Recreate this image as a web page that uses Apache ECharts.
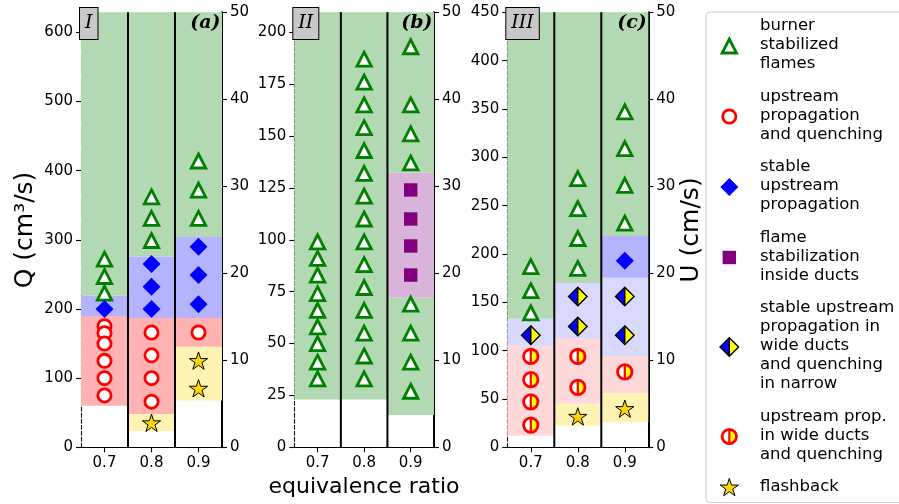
<!DOCTYPE html>
<html>
<head>
<meta charset="utf-8">
<script src="https://cdn.jsdelivr.net/npm/echarts@6/dist/echarts.min.js"></script>
<style>
  html, body { margin: 0; padding: 0; background: #fff; }
  #chart { width: 899px; height: 504px; }
</style>
</head>
<body>
<div id="chart"></div>
<script>
// ---- data -------------------------------------------------------------
const phis = [0.7, 0.8, 0.9];                 // equivalence ratio columns
const ductWalls = [0.75, 0.85];               // separators between columns
const flowMax = [629, 209.6, 450];            // Q range of each duct set (cm^3/s)
const flowTicks = [
  [0, 100, 200, 300, 400, 500, 600],
  [0, 25, 50, 75, 100, 125, 150, 175, 200],
  [0, 50, 100, 150, 200, 250, 300, 350, 400, 450]
];
const velMax = 50;                            // U range (cm/s)
const velTicks = [0, 10, 20, 30, 40, 50];
const ductTags = ['I', 'II', 'III'];
const panelTags = ['(a)', '(b)', '(c)'];

// regime bands: [phi, Q from, Q to (null = open to the top), regime]
const bandsA = [
  [0.7, 60, 190, 'upstream'], [0.7, 190, 219, 'stable'], [0.7, 219, null, 'burner'],
  [0.8, 23.6, 48, 'flashback'], [0.8, 48, 187, 'upstream'], [0.8, 187, 276, 'stable'], [0.8, 276, null, 'burner'],
  [0.9, 67.5, 145.5, 'flashback'], [0.9, 145.5, 187, 'upstream'], [0.9, 187, 304, 'stable'], [0.9, 304, null, 'burner']
];
const bandsB = [
  [0.7, 23, null, 'burner'],
  [0.8, 23, null, 'burner'],
  [0.9, 15.6, 72, 'burner'], [0.9, 72, 132.3, 'inside'], [0.9, 132.3, null, 'burner']
];
const bandsC = [
  [0.7, 12, 105, 'wideProp'], [0.7, 105, 133, 'wideStable'], [0.7, 133, null, 'burner'],
  [0.8, 22, 45, 'flashback'], [0.8, 45, 113, 'wideProp'], [0.8, 113, 170, 'wideStable'], [0.8, 170, null, 'burner'],
  [0.9, 26, 56, 'flashback'], [0.9, 56, 94.5, 'wideProp'], [0.9, 94.5, 175.5, 'wideStable'],
  [0.9, 175.5, 218.6, 'stable'], [0.9, 218.6, null, 'burner']
];

// observed cases: [phi, Q]
const burnerA = [[0.7, 272], [0.7, 247], [0.7, 223], [0.8, 362], [0.8, 331], [0.8, 299],
                 [0.9, 414], [0.9, 372], [0.9, 331]];
const upstreamA = [[0.7, 175], [0.7, 165], [0.7, 150], [0.7, 125], [0.7, 100], [0.7, 75],
                   [0.8, 166], [0.8, 133], [0.8, 100], [0.8, 66], [0.9, 166]];
const stableA = [[0.7, 200], [0.8, 265], [0.8, 232], [0.8, 200], [0.9, 290], [0.9, 249], [0.9, 207]];
const flashbackA = [[0.8, 34], [0.9, 124], [0.9, 84]];

const burnerB = [
  [0.7, 33], [0.7, 41], [0.7, 50], [0.7, 58], [0.7, 66], [0.7, 74], [0.7, 83], [0.7, 91], [0.7, 99],
  [0.8, 33], [0.8, 44], [0.8, 55], [0.8, 66], [0.8, 77], [0.8, 88], [0.8, 99], [0.8, 110],
  [0.8, 121], [0.8, 132], [0.8, 143], [0.8, 154], [0.8, 165], [0.8, 176], [0.8, 187],
  [0.9, 193], [0.9, 165], [0.9, 151], [0.9, 137], [0.9, 69], [0.9, 55], [0.9, 41], [0.9, 27]
];
const insideB = [[0.9, 124], [0.9, 110], [0.9, 97], [0.9, 83]];

const burnerC = [[0.7, 187], [0.7, 162], [0.7, 139], [0.8, 278], [0.8, 247], [0.8, 216], [0.8, 185],
                 [0.9, 347], [0.9, 309], [0.9, 271], [0.9, 232]];
const stableC = [[0.9, 193]];
const wideStableC = [[0.7, 116], [0.8, 156], [0.8, 125], [0.9, 156], [0.9, 116]];
const widePropC = [[0.7, 94], [0.7, 70], [0.7, 47], [0.7, 23], [0.8, 94], [0.8, 62], [0.9, 78]];
const flashbackC = [[0.8, 31], [0.9, 39]];

const regimeOrder = ['burner', 'upstream', 'stable', 'inside', 'wideStable', 'wideProp', 'flashback'];
const regimeLabels = [
  'burner\nstabilized\nflames',
  'upstream\npropagation\nand quenching',
  'stable\nupstream\npropagation',
  'flame\nstabilization\ninside ducts',
  'stable upstream\npropagation in\nwide ducts\nand quenching\nin narrow',
  'upstream prop.\nin wide ducts\nand quenching',
  'flashback'
];

// ---- styling ----------------------------------------------------------
const FONT = '"DejaVu Sans", "Noto Sans", sans-serif';
const SERIF = '"DejaVu Serif", "Liberation Serif", serif';
const bandFill = {
  burner: '#b3d9b3', upstream: '#ffb3b3', stable: '#b3b3ff', inside: '#d9b3d9',
  flashback: '#fff3b3', wideStable: '#d9d9ff', wideProp: '#ffd9d9'
};
const grids = [
  { left: 81, top: 12.3, width: 141, height: 435 },
  { left: 294.3, top: 12.3, width: 139.7, height: 435 },
  { left: 507.3, top: 12.3, width: 141, height: 435 }
];

const panels = [
  { bands: bandsA, marks: { burner: burnerA, upstream: upstreamA, stable: stableA, flashback: flashbackA } },
  { bands: bandsB, marks: { burner: burnerB, inside: insideB } },
  { bands: bandsC, marks: { burner: burnerC, stable: stableC, wideStable: wideStableC,
                            wideProp: widePropC, flashback: flashbackC } }
];

// one marker glyph per regime, centred on (cx, cy)
function marker(kind, cx, cy) {
  switch (kind) {
    case 'burner': {
      const w = 7.2, h = 7.0;
      return { type: 'polygon', shape: { points: [[cx, cy - h], [cx + w, cy + h], [cx - w, cy + h]] },
               style: { fill: '#fff', stroke: '#008000', lineWidth: 2.8 } };
    }
    case 'upstream':
      return { type: 'circle', shape: { cx, cy, r: 6.6 },
               style: { fill: '#fff', stroke: '#ff0000', lineWidth: 2.8 } };
    case 'stable': {
      const s = 9;
      return { type: 'polygon', shape: { points: [[cx, cy - s], [cx + s, cy], [cx, cy + s], [cx - s, cy]] },
               style: { fill: '#0000ff' } };
    }
    case 'inside': {
      const s = 6.7;
      return { type: 'rect', shape: { x: cx - s, y: cy - s, width: 2 * s, height: 2 * s },
               style: { fill: '#800080' } };
    }
    case 'wideStable': {
      const s = 9.3;
      return { type: 'group', children: [
        { type: 'polygon', shape: { points: [[cx, cy - s], [cx - s, cy], [cx, cy + s]] }, style: { fill: '#0000ff' } },
        { type: 'polygon', shape: { points: [[cx, cy - s], [cx + s, cy], [cx, cy + s]] }, style: { fill: '#ffff00' } },
        { type: 'polygon', shape: { points: [[cx, cy - s], [cx + s, cy], [cx, cy + s], [cx - s, cy]] },
          style: { fill: null, stroke: '#000', lineWidth: 1.4 } },
        { type: 'line', shape: { x1: cx, y1: cy - s, x2: cx, y2: cy + s }, style: { stroke: '#000', lineWidth: 1.4 } }
      ] };
    }
    case 'wideProp': {
      const r = 7.2;
      return { type: 'group', children: [
        { type: 'circle', shape: { cx, cy, r }, style: { fill: '#fff' } },
        { type: 'sector', shape: { cx, cy, r0: 0, r, startAngle: -Math.PI / 2, endAngle: Math.PI / 2, clockwise: true },
          style: { fill: '#ffff00' } },
        { type: 'circle', shape: { cx, cy, r }, style: { fill: null, stroke: '#ff0000', lineWidth: 2.8 } },
        { type: 'line', shape: { x1: cx, y1: cy - r, x2: cx, y2: cy + r }, style: { stroke: '#ff0000', lineWidth: 2.2 } }
      ] };
    }
    case 'flashback': {
      const R = 9.6, ri = R * 0.382, pts = [];
      for (let k = 0; k < 10; k++) {
        const a = -Math.PI / 2 + k * Math.PI / 5, rr = k % 2 ? ri : R;
        pts.push([cx + rr * Math.cos(a), cy + rr * Math.sin(a)]);
      }
      return { type: 'polygon', shape: { points: pts },
               style: { fill: '#ffd700', stroke: '#000', lineWidth: 1 } };
    }
  }
}

// ---- axes -------------------------------------------------------------
const xAxes = [], yAxes = [], series = [];
grids.forEach((g, i) => {
  xAxes.push({
    type: 'value', gridIndex: i, min: 0.65, max: 0.95,
    axisLine: { show: true, lineStyle: { color: '#000', width: 1.1 } },
    axisTick: { show: true, customValues: phis, length: 5, lineStyle: { color: '#000', width: 1.1 } },
    axisLabel: { customValues: phis, formatter: v => v.toFixed(1), fontSize: 15, fontFamily: FONT,
                 color: '#000', margin: 8 },
    splitLine: { show: false }
  });
  yAxes.push({
    type: 'value', gridIndex: i, position: 'left', min: 0, max: flowMax[i],
    axisLine: { show: true, lineStyle: { color: '#111', width: 1.1, type: [4, 2] } },
    axisTick: { show: true, customValues: flowTicks[i], length: 5, lineStyle: { color: '#000', width: 1.1 } },
    axisLabel: { customValues: flowTicks[i], fontSize: 15, fontFamily: FONT, color: '#000', margin: 8 },
    splitLine: { show: false }
  });
  yAxes.push({
    type: 'value', gridIndex: i, position: 'right', min: 0, max: velMax,
    axisLine: { show: true, lineStyle: { color: '#000', width: 2 } },
    axisTick: { show: true, customValues: velTicks, length: 5, lineStyle: { color: '#000', width: 1.1 } },
    axisLabel: { customValues: velTicks, fontSize: 15, fontFamily: FONT, color: '#000', margin: 8 },
    splitLine: { show: false }
  });
});

// ---- series -----------------------------------------------------------
panels.forEach((p, i) => {
  const top = flowMax[i];
  // regime bands
  series.push({
    type: 'custom', xAxisIndex: i, yAxisIndex: 2 * i, silent: true, z: 1,
    data: p.bands.map(b => [b[0], b[1], b[2] == null ? top : b[2]]),
    renderItem: (params, api) => {
      const phi = api.value(0);
      const a = api.coord([phi - 0.05, api.value(1)]);
      const b = api.coord([phi + 0.05, api.value(2)]);
      return { type: 'rect', shape: { x: a[0], y: b[1], width: b[0] - a[0], height: a[1] - b[1] },
               style: { fill: bandFill[p.bands[params.dataIndex][3]] } };
    }
  });
  // duct walls between columns
  series.push({
    type: 'custom', xAxisIndex: i, yAxisIndex: 2 * i, silent: true, z: 2,
    data: ductWalls.map(w => [w]),
    renderItem: (params, api) => {
      const a = api.coord([api.value(0), 0]);
      const b = api.coord([api.value(0), top]);
      return { type: 'line', shape: { x1: a[0], y1: a[1], x2: b[0], y2: b[1] },
               style: { stroke: '#000', lineWidth: 2 } };
    }
  });
  // observations
  Object.keys(p.marks).forEach(kind => {
    series.push({
      type: 'custom', name: kind, xAxisIndex: i, yAxisIndex: 2 * i, silent: true, z: 3,
      data: p.marks[kind],
      renderItem: (params, api) => {
        const c = api.coord([api.value(0), api.value(1)]);
        return marker(kind, c[0], c[1]);
      }
    });
  });
});

// ---- annotations & legend --------------------------------------------
const graphics = [];
grids.forEach((g, i) => {
  graphics.push({
    type: 'text', left: g.left - 2, top: 7, z: 100,
    style: { text: ductTags[i], font: 'italic 19px ' + SERIF, fill: '#000',
             backgroundColor: '#c8c8c8', borderColor: '#000', borderWidth: 1,
             padding: [5, 5, 5, 5], lineHeight: 21 }
  });
  graphics.push({
    type: 'text', x: g.left + g.width - 1.5, y: 23, z: 100,
    style: { text: panelTags[i], font: 'italic bold 19px ' + SERIF, fill: '#000',
             align: 'right', verticalAlign: 'middle', textAlign: 'right', textVerticalAlign: 'middle' }
  });
});
graphics.push({
  type: 'text', x: 25, y: 230, rotation: Math.PI / 2, z: 100,
  style: { text: 'Q (cm³/s)', font: '25px ' + FONT, fill: '#000',
           align: 'center', verticalAlign: 'middle', textAlign: 'center', textVerticalAlign: 'middle' }
});
graphics.push({
  type: 'text', x: 691, y: 230, rotation: Math.PI / 2, z: 100,
  style: { text: 'U (cm/s)', font: '25px ' + FONT, fill: '#000',
           align: 'center', verticalAlign: 'middle', textAlign: 'center', textVerticalAlign: 'middle' }
});
graphics.push({
  type: 'text', x: 364, y: 487, z: 100,
  style: { text: 'equivalence ratio', font: '22px ' + FONT, fill: '#000',
           align: 'center', verticalAlign: 'middle', textAlign: 'center', textVerticalAlign: 'middle' }
});

// legend frame and entries
const legendChildren = [{
  type: 'rect', shape: { x: 706, y: 12, width: 210, height: 490.5, r: 4 },
  style: { fill: '#fff', stroke: '#cccccc', lineWidth: 1 }
}];
const lineH = 19, entryGap = 13.5;
let cursor = 16.5;
regimeOrder.forEach((kind, k) => {
  const label = regimeLabels[k];
  const n = label.split('\n').length;
  const mid = cursor + n * lineH / 2;
  legendChildren.push(marker(kind, 729.3, mid + 1));
  legendChildren.push({
    type: 'text', x: 760, y: mid,
    style: { text: label, font: '16.5px ' + FONT, fill: '#000', lineHeight: lineH,
             align: 'left', verticalAlign: 'middle', textAlign: 'left', textVerticalAlign: 'middle' }
  });
  cursor += n * lineH + entryGap;
});
graphics.push({ type: 'group', z: 100, children: legendChildren });

const chart = echarts.init(document.getElementById('chart'), null, { renderer: 'canvas' });
chart.setOption({
  animation: false,
  backgroundColor: '#fff',
  grid: grids.map(g => Object.assign({ outerBoundsMode: 'none', containLabel: false }, g)),
  xAxis: xAxes,
  yAxis: yAxes,
  series: series,
  graphic: { elements: graphics }
});
</script>
</body>
</html>
